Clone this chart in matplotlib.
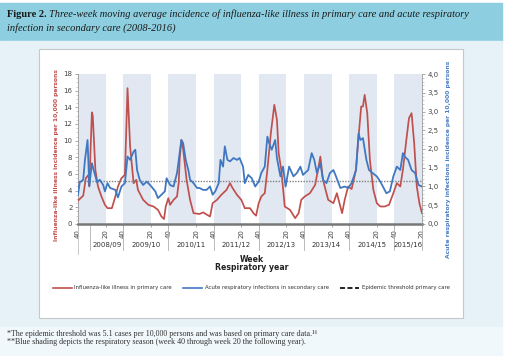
import matplotlib
matplotlib.use('Agg')
import matplotlib.pyplot as plt
import matplotlib.patches as mpatches
import matplotlib.transforms as mtransforms
from matplotlib.lines import Line2D

# --- data (week index 0 = week 40 of 2008) ---
ili_weeks = [0, 2, 6, 9, 12, 13, 16, 17, 20, 23, 27, 31, 34, 39, 43, 46, 50, 54, 57,
             60, 64, 67, 69, 75, 81, 87, 92, 96, 99, 101, 104, 106, 110, 114, 116, 117,
             119, 121, 125, 129, 133, 140, 144, 147, 152, 155, 160, 165, 171, 175, 178,
             183, 188, 192, 198, 202, 205, 208, 211, 215, 218, 222, 226, 229, 231, 234,
             238, 244, 250, 254, 257, 261, 267, 273, 277, 279, 282, 288, 294, 298, 304,
             307, 311, 315, 320, 323, 326, 328, 330, 333, 336, 340, 344, 348, 353, 358,
             363, 367, 371, 374, 378, 381, 384, 387, 390, 393, 396]
ili_values = [2.8, 3.0, 3.4, 5.5, 5.9, 4.6, 13.4, 13.0, 6.5, 4.5, 3.3, 2.3, 1.9, 1.9, 3.3,
              4.5, 5.5, 5.9, 16.3, 9.3, 4.9, 5.3, 4.1, 2.9, 2.3, 2.1, 1.7, 0.9, 0.6, 2.1,
              3.1, 2.3, 2.9, 3.3, 5.0, 7.7, 10.1, 9.0, 5.3, 2.9, 1.3, 1.2, 1.4, 1.2, 0.9,
              2.5, 2.9, 3.5, 4.1, 4.9, 4.3, 3.5, 2.9, 1.9, 1.9, 1.3, 1.0, 2.5, 3.3, 3.7,
              6.5, 10.9, 14.3, 12.5, 8.5, 6.5, 2.1, 1.7, 0.7, 1.3, 2.9, 3.3, 3.7, 4.7, 6.9,
              8.1, 5.3, 2.9, 2.5, 3.7, 1.3, 2.9, 4.5, 4.2, 6.5, 10.5, 14.1, 14.1, 15.5,
              13.3, 7.7, 4.1, 2.5, 2.1, 2.1, 2.3, 3.7, 4.9, 4.5, 6.5, 10.1, 12.7, 13.3,
              9.7, 4.5, 2.5, 1.3]

ari_weeks = [0, 2, 6, 8, 11, 13, 16, 18, 22, 25, 29, 31, 34, 37, 43, 46, 50, 54, 57, 60,
             64, 66, 68, 71, 75, 79, 83, 89, 92, 96, 100, 102, 106, 110, 114, 117, 119,
             121, 124, 127, 129, 133, 137, 140, 144, 148, 152, 155, 158, 162, 164, 167,
             169, 172, 175, 179, 183, 186, 190, 192, 196, 200, 204, 208, 211, 215, 218,
             220, 223, 227, 229, 233, 236, 239, 243, 248, 252, 256, 259, 265, 269, 272,
             275, 279, 282, 286, 290, 294, 297, 302, 307, 311, 315, 320, 323, 325, 328,
             332, 335, 339, 344, 348, 351, 355, 359, 363, 367, 371, 374, 376, 380, 384,
             388, 392, 396]
ari_values = [0.78, 1.11, 1.18, 1.71, 2.24, 1.00, 1.62, 1.44, 1.11, 1.18, 1.04, 0.87,
              1.09, 0.96, 0.91, 0.71, 1.00, 1.09, 1.80, 1.71, 1.93, 1.98, 1.44, 1.18,
              1.04, 1.13, 1.04, 0.87, 0.69, 0.78, 0.87, 1.22, 1.04, 1.00, 1.36, 1.89,
              2.24, 2.16, 1.71, 1.44, 1.18, 1.09, 0.96, 0.96, 0.91, 0.91, 1.00, 0.78,
              0.87, 1.09, 1.71, 1.53, 2.07, 1.71, 1.67, 1.76, 1.71, 1.76, 1.53, 1.09,
              1.31, 1.22, 1.00, 1.13, 1.36, 1.53, 2.33, 2.16, 1.98, 2.24, 1.76, 1.27,
              1.53, 1.00, 1.53, 1.27, 1.36, 1.53, 1.31, 1.44, 1.89, 1.71, 1.36, 1.62,
              1.18, 1.09, 1.36, 1.44, 1.27, 0.96, 1.00, 0.96, 1.09, 1.44, 2.42, 2.24,
              2.29, 1.71, 1.44, 1.36, 1.27, 1.13, 1.00, 0.82, 0.87, 1.27, 1.53, 1.44,
              1.89, 1.80, 1.71, 1.44, 1.36, 1.04, 1.00]

threshold = 5.1
seasons = ['2008/09', '2009/10', '2010/11', '2011/12', '2012/13', '2013/14', '2014/15', '2015/16']
season_starts = [0, 52, 104, 156, 208, 260, 312, 364]
season_ends = [32, 84, 136, 188, 240, 292, 344, 396]
label_separators = [14, 52, 104, 156, 208, 260, 312, 364, 396]

W, H = 505, 361
RED = '#c0504d'
BLUE = '#3f78c1'


def fx(x):
    return x / W


def fy(y):
    return 1 - y / H


fig = plt.figure(figsize=(W / 100, H / 100), dpi=100)


def band(x0, y0, x1, y1, **kw):
    r = mpatches.Rectangle((fx(x0), fy(y1)), fx(x1) - fx(x0), fy(y0) - fy(y1),
                           transform=fig.transFigure, zorder=-10, **kw)
    fig.patches.append(r)


# page background bands
band(0, 3, 502, 41, color='#8dcfe0')
band(0, 41, 502, 327, color='#e6f2f8')
band(0, 327, 502, 355, color='#f0f8fb')
band(39, 49, 463, 318, facecolor='white', edgecolor='#c8c8c8', lw=0.8)

# header
serif = ['Liberation Serif', 'DejaVu Serif']
t1 = fig.text(fx(7), fy(17), 'Figure 2.', fontsize=7.5, fontweight='bold', family=serif,
              color='#1a1a1a', va='baseline')
fig.canvas.draw()
bb = t1.get_window_extent()
fig.text((bb.x1 + 2.5) / W, fy(17), 'Three-week moving average incidence of influenza-like illness in primary care and acute respiratory',
         fontsize=7.5, style='italic', family=serif, color='#1a1a1a', va='baseline')
fig.text(fx(7), fy(31), 'infection in secondary care (2008-2016)', fontsize=7.5, style='italic',
         family=serif, color='#1a1a1a', va='baseline')

# footnotes
fig.text(fx(7), fy(336), '*The epidemic threshold was 5.1 cases per 10,000 persons and was based on primary care data.\u00b9\u2076',
         fontsize=5.75, family=serif, color='#333333', va='baseline')
fig.text(fx(7), fy(344), '**Blue shading depicts the respiratory season (week 40 through week 20 the following year).',
         fontsize=5.75, family=serif, color='#333333', va='baseline')

# main axes
ax = fig.add_axes([fx(78), fy(224), fx(422) - fx(78), fy(74) - fy(224)])
ax.set_facecolor('none')
for s, e in zip(season_starts, season_ends):
    ax.axvspan(s, e, color='#e2e8f2', lw=0, zorder=0)

ax.plot(ili_weeks, ili_values, color=RED, lw=1.25, zorder=3)
ax.axhline(threshold, color='#808080', lw=1.0, ls=(0, (1, 1)), zorder=4)
ax.set_xlim(0, 396)
ax.set_ylim(0, 18)
ax.set_yticks(range(0, 19, 2))
ax.set_yticks([i * 0.5 for i in range(37)], minor=True)
ax.tick_params(axis='y', labelsize=5, length=2, width=0.5, color='#888888', pad=2, labelcolor='#444444')
ax.tick_params(axis='y', which='minor', length=1.2, width=0.4, color='#aaaaaa')

ticks = []
labels = []
for s, e in zip(season_starts, season_ends):
    ticks += [s, e]
    labels += ['40', '20']
ax.set_xticks(ticks)
ax.set_xticklabels(labels, rotation=90)
ax.tick_params(axis='x', labelsize=5, length=2, width=0.5, color='#888888', pad=1.5, labelcolor='#444444')

for sp in ['top', 'right']:
    ax.spines[sp].set_visible(False)
ax.spines['left'].set_color('#999999')
ax.spines['left'].set_linewidth(0.6)
ax.spines['bottom'].set_color('#777777')
ax.spines['bottom'].set_linewidth(1.8)

ax.set_ylabel('Influenza-like illness incidence per 10,000 persons', color=RED, fontsize=4.3,
              fontweight='bold')
ax.yaxis.set_label_coords(-0.055, 0.46)

ax2 = ax.twinx()
ax2.plot(ari_weeks, ari_values, color=BLUE, lw=1.3, zorder=3)
ax2.set_ylim(0, 4)
ax2.set_yticks([i * 0.5 for i in range(9)])
ax2.set_yticklabels([('%.1f' % (i * 0.5)).replace('.', ',') for i in range(9)])
ax2.set_yticks([i * 0.1 for i in range(41)], minor=True)
ax2.tick_params(axis='y', labelsize=5, length=2, width=0.5, color='#888888', pad=2, labelcolor='#444444')
ax2.tick_params(axis='y', which='minor', length=1.2, width=0.4, color='#aaaaaa')
for sp in ['top', 'left', 'bottom']:
    ax2.spines[sp].set_visible(False)
ax2.spines['right'].set_color('#999999')
ax2.spines['right'].set_linewidth(0.6)
ax2.set_ylabel('Acute respiratory infections incidence per 10,000 persons', color='#4a7fc4',
               fontsize=4.3, fontweight='bold')
ax2.yaxis.set_label_coords(1.07, 0.43)

# season separators and labels below axis
trans = mtransforms.blended_transform_factory(ax.transData, ax.transAxes)
ax.plot([0, 0], [0, -0.2], color='#c0c0c0', lw=0.6, transform=trans, clip_on=False)
for xs in label_separators:
    ax.plot([xs, xs], [0, -0.175], color='#b0b0b0', lw=0.6, transform=trans, clip_on=False)
for i, name in enumerate(seasons):
    left, right = label_separators[i], label_separators[i + 1]
    ax.text((left + right) / 2, -0.14, name, transform=trans, ha='center', va='center',
            fontsize=5, color='#333333')

fig.text(fx(252), fy(259), 'Week', ha='center', va='center', fontsize=5.6, fontweight='bold', color='#222222')
fig.text(fx(252), fy(268), 'Respiratory year', ha='center', va='center', fontsize=5.6,
         fontweight='bold', color='#222222')

handles = [Line2D([], [], color=RED, lw=1.2),
           Line2D([], [], color=BLUE, lw=1.2),
           Line2D([], [], color='black', lw=1.2, ls=(0, (3, 1.5)))]
names = ['Influenza-like illness in primary care', 'Acute respiratory infections in secondary care',
         'Epidemic threshold primary care']
fig.legend(handles, names, ncol=3, loc='center', bbox_to_anchor=(fx(251), fy(288)), frameon=False,
           fontsize=3.9, handlelength=3.6, handletextpad=0.45, columnspacing=2.0, labelcolor='#333333')

fig.savefig('out.png', dpi=100)
